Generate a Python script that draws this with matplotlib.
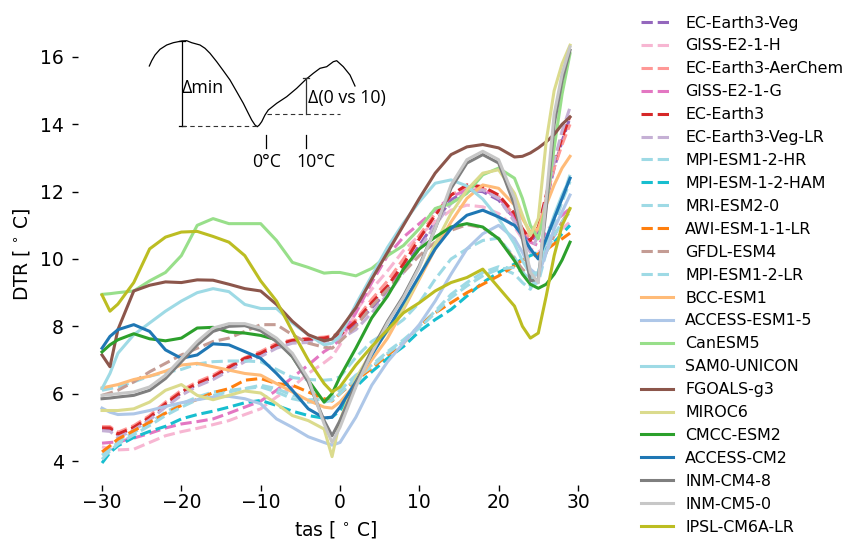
import matplotlib
matplotlib.use("Agg")
import matplotlib.pyplot as plt

# shared temperature bins (tas, deg C)
tas = [-30, -29, -28, -26, -24, -22, -20, -18, -16, -14, -12, -10, -8, -6, -4, -2, -1, 0,
       2, 4, 6, 8, 10, 12, 14, 16, 18, 20, 22, 23, 24, 25, 26, 27, 28, 29]

# DTR per model
ec_earth3_veg = [4.95, 4.95, 4.78, 4.98, 5.28, 5.68, 6.02, 6.28, 6.48, 6.75, 7.0, 7.17, 7.42, 7.55, 7.6, 7.63, 7.68, 7.72,
                 8.05, 8.55, 9.05, 9.7, 10.4, 11.1, 11.75, 12.05, 12.0, 11.75, 11.2, 10.8, 10.5, 10.8, 11.7, 12.7, 13.5, 14.2]
giss_e2_1_h = [4.42, 4.36, 4.33, 4.35, 4.55, 4.75, 4.87, 4.97, 5.08, 5.2, 5.38, 5.55, 5.9, 6.2, 6.6, 6.92, 7.1, 7.45,
               8.45, 9.1, 9.65, 10.25, 10.7, 11.1, 11.45, 11.6, 11.55, 11.35, 10.95, 10.6, 10.3, 10.2, 10.4, 10.7, 10.9, 11.1]
ec_earth3_aerchem = [5.02, 5.02, 4.85, 5.05, 5.35, 5.75, 6.1, 6.35, 6.55, 6.82, 7.07, 7.25, 7.5, 7.6, 7.65, 7.68, 7.72, 7.8,
                     8.2, 8.8, 9.35, 10.0, 10.7, 11.35, 11.9, 12.15, 12.1, 11.85, 11.3, 10.9, 10.6, 10.9, 11.8, 12.7, 13.4, 14.0]
giss_e2_1_g = [4.53, 4.55, 4.57, 4.68, 4.82, 4.98, 5.1, 5.17, 5.25, 5.42, 5.6, 5.78, 6.1, 6.48, 6.85, 7.25, 7.4, 7.6,
               8.4, 9.3, 10.1, 10.65, 11.05, 11.45, 11.85, 12.05, 12.05, 11.85, 11.2, 10.8, 10.5, 10.4, 10.8, 11.1, 11.3, 11.5]
ec_earth3 = [4.98, 4.98, 4.8, 5.0, 5.3, 5.7, 6.05, 6.3, 6.5, 6.78, 7.05, 7.2, 7.45, 7.58, 7.62, 7.65, 7.7, 7.75,
             8.15, 8.7, 9.2, 9.85, 10.6, 11.3, 11.9, 12.2, 12.15, 11.9, 11.35, 10.9, 10.55, 10.95, 11.9, 12.9, 13.6, 14.25]
ec_earth3_veg_lr = [4.9, 4.88, 4.7, 4.92, 5.22, 5.6, 5.95, 6.22, 6.42, 6.68, 6.95, 7.1, 7.35, 7.5, 7.52, 7.55, 7.58, 7.62,
                    7.9, 8.4, 8.95, 9.6, 10.3, 11.0, 11.65, 12.0, 12.05, 11.8, 11.1, 10.6, 10.2, 10.7, 11.8, 12.9, 13.8, 14.5]
mpi_esm1_2_hr = [4.17, 4.35, 4.55, 4.85, 5.12, 5.45, 5.7, 5.9, 6.05, 6.1, 6.15, 6.25, 6.15, 5.95, 5.82, 5.83, 5.87, 6.1,
                 6.55, 6.85, 7.25, 7.6, 8.0, 8.45, 8.95, 9.3, 9.6, 9.77, 9.55, 9.3, 9.1, 9.6, 10.5, 11.2, 11.8, 12.5]
mpi_esm_1_2_ham = [3.94, 4.25, 4.45, 4.7, 4.88, 5.03, 5.25, 5.38, 5.48, 5.6, 5.73, 5.8, 5.65, 5.48, 5.35, 5.27, 5.3, 5.5,
                   6.2, 6.65, 7.05, 7.4, 7.85, 8.2, 8.5, 8.9, 9.3, 9.6, 9.85, 10.0, 10.1, 10.2, 10.3, 10.5, 10.75, 11.0]
mri_esm2_0 = [6.1, 6.15, 6.2, 6.35, 6.52, 6.63, 6.72, 6.88, 6.95, 6.97, 6.97, 6.95, 6.72, 6.48, 6.42, 6.4, 6.42, 6.5,
              7.08, 7.55, 7.85, 8.2, 8.7, 9.4, 10.0, 10.3, 10.55, 10.62, 10.05, 9.65, 9.2, 9.3, 10.2, 11.0, 11.7, 12.3]
awi_esm_1_1_lr = [4.27, 4.45, 4.65, 4.9, 5.15, 5.42, 5.65, 5.83, 6.03, 6.15, 6.4, 6.45, 6.3, 6.25, 6.05, 5.85, 5.78, 6.0,
                  6.4, 6.75, 7.15, 7.5, 8.0, 8.4, 8.7, 9.0, 9.25, 9.5, 9.8, 9.97, 10.05, 10.15, 10.27, 10.45, 10.6, 10.77]
gfdl_esm4 = [5.95, 6.02, 6.1, 6.35, 6.65, 6.9, 7.15, 7.35, 7.55, 7.65, 7.85, 8.05, 8.05, 7.75, 7.5, 7.38, 7.35, 7.55,
             8.0, 8.6, 9.1, 9.6, 10.1, 10.5, 10.85, 11.02, 10.93, 10.6, 10.0, 9.7, 9.45, 9.6, 10.2, 10.7, 11.1, 11.5]
mpi_esm1_2_lr = [4.05, 4.3, 4.5, 4.78, 5.05, 5.35, 5.6, 5.82, 5.95, 6.05, 6.15, 6.2, 6.05, 5.85, 5.75, 5.75, 5.8, 6.0,
                 6.45, 6.8, 7.2, 7.55, 7.95, 8.4, 8.85, 9.2, 9.5, 9.7, 9.75, 9.6, 9.4, 9.6, 10.2, 10.7, 11.1, 11.4]
bcc_esm1 = [6.17, 6.22, 6.27, 6.42, 6.52, 6.67, 6.85, 6.9, 6.8, 6.7, 6.6, 6.55, 6.3, 6.05, 5.8, 5.6, 5.57, 5.75,
            6.3, 7.0, 7.65, 8.5, 9.4, 10.3, 11.1, 11.8, 12.2, 12.1, 11.6, 11.2, 10.8, 10.9, 11.6, 12.2, 12.7, 13.05]
access_esm1_5 = [5.57, 5.45, 5.38, 5.4, 5.5, 5.62, 5.73, 5.82, 5.9, 5.92, 5.85, 5.7, 5.25, 5.0, 4.72, 4.55, 4.47, 4.55,
                 5.3, 6.25, 6.95, 7.5, 8.05, 8.75, 9.55, 10.3, 10.75, 11.0, 10.6, 10.2, 9.7, 9.5, 10.2, 10.9, 11.4, 11.9]
canesm5 = [8.95, 8.97, 9.0, 9.05, 9.35, 9.6, 10.1, 11.0, 11.2, 11.05, 11.05, 11.05, 10.55, 9.9, 9.75, 9.58, 9.6, 9.6,
           9.5, 9.72, 10.1, 10.4, 10.9, 11.5, 11.65, 11.95, 12.5, 12.7, 12.4, 11.8, 11.0, 10.6, 11.6, 13.3, 14.9, 16.1]
sam0_unicon = [6.15, 6.6, 7.2, 7.75, 8.1, 8.45, 8.75, 9.0, 9.12, 9.03, 8.65, 8.53, 8.53, 8.1, 7.75, 7.45, 7.5, 7.72,
               8.65, 9.5, 10.35, 11.07, 11.7, 12.25, 12.35, 12.17, 11.78, 11.2, 10.45, 9.95, 9.55, 9.6, 10.6, 11.3, 11.9, 12.4]
fgoals_g3 = [7.15, 6.8, 7.9, 9.05, 9.22, 9.32, 9.3, 9.38, 9.37, 9.25, 9.12, 9.05, 8.65, 8.15, 7.75, 7.57, 7.62, 7.9,
             8.55, 9.4, 10.2, 11.0, 11.8, 12.55, 13.1, 13.33, 13.4, 13.3, 13.03, 13.05, 13.15, 13.3, 13.48, 13.7, 14.0, 14.22]
miroc6 = [5.5, 5.5, 5.5, 5.55, 5.75, 6.1, 6.27, 5.95, 5.82, 5.95, 6.08, 6.02, 5.7, 5.35, 5.2, 4.95, 4.13, 5.2,
          6.45, 7.25, 7.85, 8.55, 9.45, 10.45, 11.35, 12.05, 12.55, 12.65, 11.95, 11.3, 10.7, 11.2, 13.5, 15.0, 15.8, 16.35]
cmcc_esm2 = [7.24, 7.45, 7.6, 7.78, 7.63, 7.57, 7.65, 7.95, 7.97, 7.83, 7.8, 7.73, 7.6, 7.1, 6.4, 5.75, 6.0, 6.5,
             7.35, 8.25, 8.9, 9.7, 10.3, 10.65, 10.95, 11.05, 10.95, 10.6, 9.95, 9.55, 9.25, 9.13, 9.25, 9.55, 9.97, 10.5]
access_cm2 = [7.35, 7.7, 7.9, 8.05, 7.85, 7.3, 7.05, 7.15, 7.48, 7.45, 7.25, 7.05, 6.6, 6.1, 5.55, 5.28, 5.3, 5.6,
              6.35, 7.15, 7.9, 8.7, 9.5, 10.3, 10.9, 11.3, 11.45, 11.25, 11.0, 10.7, 10.3, 10.0, 10.6, 11.2, 11.8, 12.4]
inm_cm4_8 = [5.85, 5.87, 5.9, 5.95, 6.1, 6.45, 6.95, 7.45, 7.85, 8.0, 8.02, 7.87, 7.55, 7.1, 6.35, 5.2, 4.75, 5.2,
             6.3, 7.3, 8.15, 8.9, 9.8, 10.9, 12.1, 12.85, 13.1, 12.85, 11.6, 10.6, 9.35, 9.4, 11.5, 14.0, 15.3, 16.2]
inm_cm5_0 = [5.95, 5.97, 6.0, 6.05, 6.2, 6.55, 7.05, 7.55, 7.95, 8.08, 8.08, 7.95, 7.65, 7.2, 6.45, 5.1, 4.55, 5.0,
             6.2, 7.2, 8.1, 8.85, 9.75, 10.9, 12.2, 12.95, 13.2, 12.95, 11.8, 10.8, 9.6, 9.3, 11.8, 14.3, 15.5, 16.3]
ipsl_cm6a_lr = [8.93, 8.45, 8.66, 9.3, 10.3, 10.65, 10.8, 10.82, 10.67, 10.5, 10.1, 9.35, 8.75, 7.85, 7.0, 6.3, 6.05, 6.2,
                6.85, 7.4, 7.9, 8.4, 8.7, 9.05, 9.3, 9.45, 9.7, 9.15, 8.6, 8.0, 7.65, 7.8, 8.9, 10.1, 11.0, 11.5]

models = [
    ("EC-Earth3-Veg", ec_earth3_veg, "#9467bd", "--"),
    ("GISS-E2-1-H", giss_e2_1_h, "#f7b6d2", "--"),
    ("EC-Earth3-AerChem", ec_earth3_aerchem, "#ff9896", "--"),
    ("GISS-E2-1-G", giss_e2_1_g, "#e377c2", "--"),
    ("EC-Earth3", ec_earth3, "#d62728", "--"),
    ("EC-Earth3-Veg-LR", ec_earth3_veg_lr, "#c5b0d5", "--"),
    ("MPI-ESM1-2-HR", mpi_esm1_2_hr, "#9edae5", "--"),
    ("MPI-ESM-1-2-HAM", mpi_esm_1_2_ham, "#17becf", "--"),
    ("MRI-ESM2-0", mri_esm2_0, "#9edae5", "--"),
    ("AWI-ESM-1-1-LR", awi_esm_1_1_lr, "#ff7f0e", "--"),
    ("GFDL-ESM4", gfdl_esm4, "#c49c94", "--"),
    ("MPI-ESM1-2-LR", mpi_esm1_2_lr, "#9edae5", "--"),
    ("BCC-ESM1", bcc_esm1, "#ffbb78", "-"),
    ("ACCESS-ESM1-5", access_esm1_5, "#aec7e8", "-"),
    ("CanESM5", canesm5, "#98df8a", "-"),
    ("SAM0-UNICON", sam0_unicon, "#9edae5", "-"),
    ("FGOALS-g3", fgoals_g3, "#8c564b", "-"),
    ("MIROC6", miroc6, "#dbdb8d", "-"),
    ("CMCC-ESM2", cmcc_esm2, "#2ca02c", "-"),
    ("ACCESS-CM2", access_cm2, "#1f77b4", "-"),
    ("INM-CM4-8", inm_cm4_8, "#7f7f7f", "-"),
    ("INM-CM5-0", inm_cm5_0, "#c7c7c7", "-"),
    ("IPSL-CM6A-LR", ipsl_cm6a_lr, "#bcbd22", "-"),
]

# schematic sketch in the upper left (figure pixels, y downwards)
sketch_x = [149.3, 151.7, 155, 160, 166.7, 173.3, 181.7, 186.7, 191.7, 200, 205, 210, 216.7, 223.3, 230, 236.7,
            243.3, 248.3, 251.7, 255, 257.3, 259.3, 261.7, 265, 268.3, 276.7, 286.7, 296.7, 306, 313.3, 320,
            326.7, 333.3, 336.7, 343.3, 350, 355]
sketch_y = [66, 60.7, 55, 49.3, 45, 42.7, 41, 40.7, 42.7, 45, 48.3, 53.3, 61.7, 70.7, 80, 91.7,
            103.3, 113.3, 120, 125, 126.7, 125, 121.7, 115, 110, 103.3, 96.7, 88.3, 79.3, 73.3, 68.3,
            66.7, 61.7, 60.7, 66.7, 75, 86]

fig = plt.figure(figsize=(8.45, 5.41), dpi=100)
ax = fig.add_axes([0.0923, 0.1035, 0.6095, 0.854])
ax.patch.set_alpha(0)

for name, vals, col, ls in models:
    ax.plot(tas, vals, color=col, linestyle=ls, linewidth=2.2, label=name)

ax.set_xlim(-33.03, 31.9)
ax.set_ylim(3.287, 17.01)
ax.set_xticks([-30, -20, -10, 0, 10, 20, 30])
ax.set_yticks([4, 6, 8, 10, 12, 14, 16])
for s in ax.spines.values():
    s.set_visible(False)
ax.tick_params(axis="both", labelsize=13.5, length=4.5, width=1.0)
ax.tick_params(axis="x", pad=1.5)
ax.tick_params(axis="y", pad=5.5)
ax.set_xlabel(r"tas [$\,^\circ\,$C]", fontsize=13.5, labelpad=5)
ax.set_ylabel(r"DTR [$\,^\circ\,$C]", fontsize=13.5, labelpad=6)

fig.legend(loc="upper left", bbox_to_anchor=(0.751, 0.983), frameon=False,
           fontsize=11.4, labelspacing=0.5, handlelength=2.0, handletextpad=0.8,
           borderaxespad=0)

# schematic overlay
sk = fig.add_axes([0, 0, 1, 1], zorder=5)
sk.set_xlim(0, 845)
sk.set_ylim(541, 0)
sk.axis("off")
sk.patch.set_alpha(0)
k = dict(color="black", lw=0.9)
sk.plot(sketch_x, sketch_y, **k)
sk.plot([181.7, 181.7], [40.7, 125.7], **k)
sk.plot([178.7, 184.7], [40.7, 40.7], **k)
sk.plot([178.7, 184.7], [125.7, 125.7], **k)
sk.plot([181.7, 257], [126.3, 126.3], color="#333333", lw=0.8, ls=(0, (4, 3)))
sk.plot([306, 306], [78.3, 114.3], color="#333333", lw=0.9)
sk.plot([303, 309], [78.3, 78.3], color="#333333", lw=0.9)
sk.plot([267, 340], [114.3, 114.3], color="#333333", lw=0.8, ls=(0, (4, 3)))
sk.plot([266, 266], [135, 148], **k)
sk.plot([306, 306], [135, 148], **k)
tf = dict(family=["Open Sans", "DejaVu Sans"], fontsize=12.8, color="black")
sk.text(182, 88, "Δmin", ha="left", va="center", **tf)
sk.text(308, 98, "Δ(0 vs 10)", ha="left", va="center", **tf)
sk.text(267, 162, "0°C", ha="center", va="center", **tf)
sk.text(316, 162, "10°C", ha="center", va="center", **tf)

fig.savefig("out.png", dpi=100)
